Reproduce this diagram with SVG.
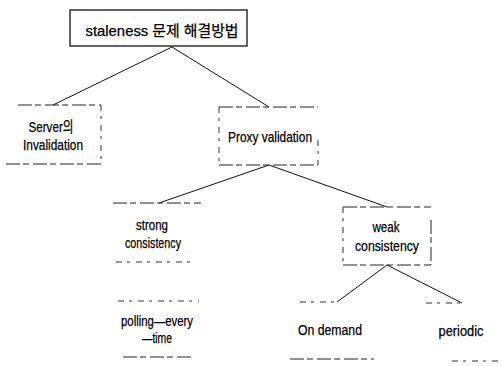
<svg xmlns="http://www.w3.org/2000/svg" width="503" height="366" viewBox="0 0 503 366">
<style>
text{font-family:"Liberation Sans","Noto Sans CJK KR",sans-serif;font-size:15px;fill:#000;text-anchor:middle;stroke:#000;stroke-width:0.25}
.solid{fill:none;stroke:#111;stroke-width:1.3}
.d{fill:none;stroke:#222;stroke-width:1;stroke-dasharray:14 3 6 4}
.d2{fill:none;stroke:#333;stroke-width:1;stroke-dasharray:6 5 3 6}
.c{stroke:#111;stroke-width:1;fill:none}
</style>
<rect width="503" height="366" fill="#fff"/>
<g id="connectors">
<line class="c" x1="172" y1="47" x2="53" y2="105"/>
<line class="c" x1="172" y1="47" x2="269" y2="107"/>
<line class="c" x1="269" y1="165" x2="159" y2="203"/>
<line class="c" x1="269" y1="165" x2="387" y2="207"/>
<line class="c" x1="387" y1="265" x2="337" y2="302"/>
<line class="c" x1="387" y1="265" x2="462" y2="303"/>
</g>
<g id="root">
<rect class="solid" x="70" y="10" width="177" height="36"/>
<text x="162" y="36" font-size="17" textLength="153" lengthAdjust="spacingAndGlyphs">staleness 문제 해결방법</text>
</g>
<g id="server">
<line class="d" x1="18" y1="105" x2="101" y2="105"/>
<line class="d2" x1="101" y1="105" x2="101" y2="163"/>
<line class="d" x1="6" y1="164" x2="101" y2="164"/>
<text x="51" y="132" textLength="45" lengthAdjust="spacingAndGlyphs">Server의</text>
<text x="53" y="150" textLength="60" lengthAdjust="spacingAndGlyphs">Invalidation</text>
</g>
<g id="proxy">
<line class="d" x1="219" y1="107" x2="318" y2="107"/>
<line class="d2" x1="219" y1="107" x2="219" y2="164"/>
<line class="d" x1="219" y1="165" x2="318" y2="165"/>
<line class="d2" x1="318" y1="140" x2="318" y2="165"/>
<text x="270" y="142" textLength="84" lengthAdjust="spacingAndGlyphs">Proxy validation</text>
</g>
<g id="strong">
<line class="d" x1="113" y1="203" x2="201" y2="203"/>
<line class="d2" x1="116" y1="262" x2="194" y2="262"/>
<text x="152" y="230" textLength="32" lengthAdjust="spacingAndGlyphs">strong</text>
<text x="153" y="248" textLength="56" lengthAdjust="spacingAndGlyphs">consistency</text>
</g>
<g id="weak">
<line class="d" x1="343" y1="207" x2="431" y2="207"/>
<line class="d2" x1="343" y1="207" x2="343" y2="265"/>
<line class="d" x1="431" y1="220" x2="431" y2="265"/>
<line class="d" x1="343" y1="265" x2="431" y2="265"/>
<text x="386" y="232" textLength="27" lengthAdjust="spacingAndGlyphs">weak</text>
<text x="387" y="251" textLength="64" lengthAdjust="spacingAndGlyphs">consistency</text>
</g>
<g id="polling">
<line class="d2" x1="118" y1="301" x2="199" y2="301"/>
<line class="d" x1="123" y1="357" x2="194" y2="357"/>
<text x="157" y="326" textLength="72" lengthAdjust="spacingAndGlyphs">polling—every</text>
<text x="157" y="343" textLength="30" lengthAdjust="spacingAndGlyphs">—time</text>
</g>
<g id="ondemand">
<line class="d2" x1="300" y1="302" x2="340" y2="302"/>
<line class="d" x1="290" y1="359" x2="374" y2="359"/>
<text x="330" y="335" textLength="64" lengthAdjust="spacingAndGlyphs">On demand</text>
</g>
<g id="periodic">
<line class="d2" x1="426" y1="303" x2="463" y2="303"/>
<line class="d2" x1="452" y1="361" x2="503" y2="361"/>
<text x="461" y="336" textLength="45" lengthAdjust="spacingAndGlyphs">periodic</text>
</g>
</svg>
